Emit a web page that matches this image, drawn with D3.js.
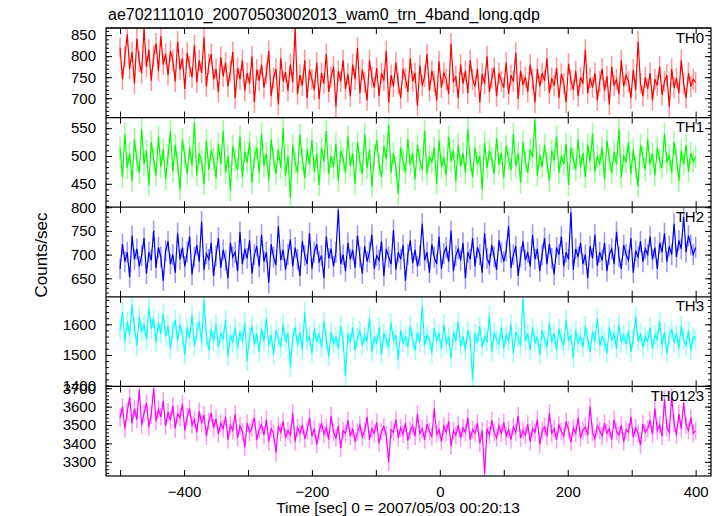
<!DOCTYPE html>
<html><head><meta charset="utf-8">
<script src="https://cdn.jsdelivr.net/npm/d3@7"></script>
<style>
html,body{margin:0;padding:0;background:#fff;}
svg{display:block;font-family:"Liberation Sans",Arial,Helvetica,sans-serif;}
</style></head><body>
<svg id="c" width="724" height="516"></svg>
<script>
const title = "ae702111010_20070503002013_wam0_trn_4band_long.qdp";
const xLabel = "Time [sec] 0 = 2007/05/03 00:20:13";
const yLabel = "Counts/sec";
const timeStart = -500, timeEnd = 400;
const panelNames = ["TH0","TH1","TH2","TH3","TH0123"];
const panelColors = ["#ff0000","#00ff00","#0000ff","#00ffff","#ff00ff"];
const panelDomains = [[654,867],[408,569],[611,800],[1397,1690],[3223,3710]];
const panelMajor = [[700,750,800,850],[450,500,550],[650,700,750,800],[1400,1500,1600],[3300,3400,3500,3600,3700]];
const panelMinorStep = [10,10,10,20,20];
const panelErrors = [25,20,22,32,48];
const xTickValues = [-500,-400,-300,-200,-100,0,100,200,300,400];
const xLabelValues = [-400,-200,0,200,400];

const th0 = [820,745,798,852,770,810,735,842,788,760,865,775,815,742,800,830,765,848,780,805,
755,812,790,740,835,768,795,722,808,775,750,826,738,790,760,845,728,782,805,745,
770,715,798,752,785,728,765,810,700,772,745,790,718,760,735,800,690,768,742,780,
725,758,812,705,748,770,685,795,740,762,718,780,738,865,710,755,730,790,700,768,
745,720,785,698,760,735,805,715,750,775,680,765,740,790,722,758,705,780,745,820,
712,768,738,695,790,750,725,772,705,760,742,812,690,755,728,785,735,700,770,748,
715,795,740,760,682,778,730,752,805,718,765,740,695,788,725,760,745,710,830,738,
752,700,780,735,765,712,790,745,728,770,690,758,735,800,715,748,772,705,760,740,
725,785,710,755,740,808,698,765,732,750,715,780,745,690,770,728,760,742,795,712,
748,730,772,700,758,735,690,782,742,720,765,705,750,735,815,712,748,725,760,695,
740,770,718,752,685,775,730,745,710,790,728,755,740,700,768,720,835,735,705,750,
722,760,695,745,730,775,708,740,755,680,770,725,748,712,790,735,700,760,728,745,738];
const th1 = [515,462,540,478,505,455,530,492,470,548,485,510,448,525,495,465,535,480,512,458,
500,545,472,520,488,440,530,498,468,515,482,560,465,505,490,450,528,475,510,495,
460,522,485,545,470,500,438,518,492,475,535,462,508,488,525,452,498,515,470,540,
482,505,455,530,495,468,512,478,550,465,500,425,520,488,470,538,495,460,512,485,
528,472,505,448,515,490,545,468,500,480,522,455,510,495,470,535,482,505,450,525,
490,468,540,478,512,445,500,528,485,462,518,495,555,470,505,480,432,515,492,470,
530,485,505,458,520,492,475,545,468,500,488,515,450,528,480,498,465,535,490,510,
455,520,482,505,470,548,492,462,515,485,500,440,525,478,510,495,468,532,485,505,
460,518,495,475,540,482,505,452,525,490,470,512,498,565,465,502,480,520,488,455,
510,492,535,470,500,485,522,448,515,495,475,530,480,505,462,520,490,540,472,500,
485,515,458,528,495,470,508,485,548,462,500,490,525,468,512,480,445,520,498,475,
530,485,505,465,515,492,478,540,488,502,470,525,495,455,510,485,520,472,505,490,498];
const th2 = [670,722,685,705,652,740,690,712,675,698,735,660,705,688,750,672,715,695,645,708,
728,680,700,662,745,690,715,675,705,738,658,695,720,685,770,668,702,690,725,655,
698,735,672,710,688,650,725,695,705,665,748,680,712,692,730,660,700,718,675,742,
685,705,640,722,695,678,760,688,710,668,700,732,675,715,690,655,728,698,680,745,
670,705,722,685,698,650,738,692,712,675,705,795,680,700,665,725,690,710,672,740,
695,660,718,685,705,742,670,698,688,728,655,712,695,680,752,668,705,690,720,645,
700,730,682,710,675,698,765,688,705,662,722,695,680,738,670,702,715,685,750,665,
698,712,688,725,650,705,690,735,675,715,700,662,745,692,680,720,695,668,730,705,
685,708,760,672,700,718,655,695,728,688,705,675,742,690,712,665,700,735,680,722,
692,658,715,700,738,675,705,690,790,668,712,695,725,680,700,650,718,692,742,676,
705,688,725,665,700,712,680,748,695,670,720,700,688,735,662,708,695,728,685,712,
700,738,690,715,670,725,705,745,685,718,700,765,695,730,712,780,705,740,720,700,715];
const th3 = [1580,1640,1545,1610,1565,1665,1590,1530,1625,1575,1600,1550,1655,1585,1620,1540,1605,1570,1635,1560,
1595,1520,1580,1615,1545,1600,1565,1500,1590,1555,1630,1530,1575,1610,1540,1680,1560,1515,1585,1545,
1600,1525,1570,1550,1615,1495,1565,1540,1590,1520,1575,1545,1605,1480,1560,1595,1535,1570,1510,1585,
1545,1620,1530,1565,1500,1580,1555,1525,1600,1540,1570,1460,1555,1590,1530,1575,1515,1640,1545,1560,
1505,1585,1540,1570,1525,1610,1550,1495,1575,1535,1560,1520,1595,1545,1430,1570,1540,1590,1515,1555,
1580,1530,1565,1545,1620,1510,1560,1535,1590,1500,1570,1550,1525,1605,1545,1565,1485,1580,1540,1560,
1525,1595,1550,1515,1575,1540,1660,1530,1565,1550,1505,1590,1545,1570,1520,1600,1535,1560,1490,1575,
1545,1610,1530,1560,1515,1580,1550,1420,1570,1540,1595,1525,1560,1545,1630,1510,1575,1550,1535,1590,
1520,1565,1545,1600,1505,1575,1555,1530,1685,1545,1570,1515,1590,1540,1560,1500,1580,1550,1525,1605,
1540,1570,1515,1585,1550,1530,1615,1545,1565,1490,1580,1540,1560,1525,1595,1550,1510,1575,1545,1620,
1530,1560,1545,1505,1590,1550,1570,1520,1600,1540,1565,1535,1580,1510,1555,1625,1545,1570,1525,1560,
1545,1590,1520,1565,1550,1610,1530,1575,1505,1560,1585,1540,1570,1520,1595,1550,1530,1580,1515,1560,1550];
const th0123 = [3540,3600,3480,3575,3650,3510,3590,3530,3690,3500,3565,3620,3490,3555,3700,3520,3585,3545,3630,3495,
3570,3525,3605,3480,3560,3540,3615,3470,3545,3590,3500,3530,3460,3575,3510,3555,3440,3520,3565,3485,
3535,3450,3510,3480,3545,3420,3500,3470,3560,3430,3495,3465,3380,3510,3460,3485,3540,3420,3475,3500,
3445,3530,3410,3480,3455,3350,3495,3460,3520,3430,3470,3445,3565,3410,3485,3455,3500,3425,3470,3540,
3440,3480,3395,3465,3510,3450,3485,3420,3550,3460,3430,3495,3375,3470,3455,3525,3440,3480,3410,3460,
3500,3435,3470,3545,3420,3480,3455,3515,3400,3465,3490,3445,3300,3475,3460,3530,3430,3485,3450,3510,
3415,3470,3495,3440,3560,3455,3480,3420,3505,3465,3435,3590,3450,3475,3410,3495,3460,3520,3385,3470,
3445,3500,3430,3485,3460,3540,3420,3475,3455,3510,3400,3470,3235,3480,3445,3525,3460,3430,3495,3455,
3515,3440,3475,3420,3490,3460,3550,3430,3470,3445,3505,3410,3480,3460,3530,3395,3470,3490,3440,3565,
3455,3480,3420,3500,3465,3440,3520,3475,3405,3485,3455,3540,3430,3470,3490,3445,3600,3460,3425,3495,
3470,3440,3510,3455,3480,3420,3530,3465,3445,3500,3410,3475,3460,3545,3435,3485,3455,3390,3505,3460,
3480,3525,3450,3590,3470,3500,3440,3640,3485,3460,3655,3510,3445,3560,3480,3620,3500,3470,3540,3455,3470];
const seriesValues = [th0, th1, th2, th3, th0123];

const svg = d3.select("#c");
const PL = 106, PR = 711, PT = 28, PB = 476;
const nP = panelNames.length;
const ph = (PB - PT) / nP;
const x = d3.scaleLinear().domain([-522, 424]).range([PL, PR]);

svg.append("text").attr("x", 108).attr("y", 20).attr("font-size", 16).text(title);

panelNames.forEach((name, p) => {
  const y0 = PT + p * ph, y1 = y0 + ph;
  const y = d3.scaleLinear().domain(panelDomains[p]).range([y1, y0]);
  const vals = seriesValues[p];
  const n = vals.length;
  const pts = vals.map((v, i) => ({t: timeStart + i * (timeEnd - timeStart) / (n - 1), v}));
  const clipId = "clip" + p;
  svg.append("clipPath").attr("id", clipId).append("rect")
    .attr("x", PL).attr("y", y0).attr("width", PR - PL).attr("height", ph);
  const g = svg.append("g").attr("clip-path", `url(#${clipId})`);
  const err = panelErrors[p];
  g.selectAll("line.err").data(pts).join("line").attr("class","err")
    .attr("x1", d => x(d.t)).attr("x2", d => x(d.t))
    .attr("y1", d => y(d.v - err)).attr("y2", d => y(d.v + err))
    .attr("stroke", panelColors[p]).attr("stroke-opacity", 0.4).attr("stroke-width", 1.6);
  g.append("path").datum(pts)
    .attr("d", d3.line().x(d => x(d.t)).y(d => y(d.v)))
    .attr("fill", "none").attr("stroke", panelColors[p]).attr("stroke-width", 1.2);

  const [dmin, dmax] = panelDomains[p];
  const minors = d3.range(Math.ceil(dmin / panelMinorStep[p]) * panelMinorStep[p], dmax + 0.01, panelMinorStep[p]);
  const styleAxis = sel => { sel.select(".domain").remove(); sel.selectAll("line").attr("stroke", "#000"); };
  svg.append("g").attr("transform", `translate(${PL},0)`)
    .call(d3.axisLeft(y).tickValues(minors).tickSize(-3).tickFormat("")).call(styleAxis);
  svg.append("g").attr("transform", `translate(${PR},0)`)
    .call(d3.axisRight(y).tickValues(minors).tickSize(-3).tickFormat("")).call(styleAxis);
  svg.append("g").attr("transform", `translate(${PR},0)`)
    .call(d3.axisRight(y).tickValues(panelMajor[p]).tickSize(-6).tickFormat("")).call(styleAxis);
  const ya = svg.append("g").attr("transform", `translate(${PL},0)`)
    .call(d3.axisLeft(y).tickValues(panelMajor[p]).tickSize(-6).tickPadding(10).tickFormat(d3.format("d")))
    .call(styleAxis);
  ya.selectAll("text").attr("font-size", 15).attr("fill", "#000")
    .attr("font-family", '"Liberation Sans",Arial,sans-serif');
  svg.append("g").attr("transform", `translate(0,${y0})`)
    .call(d3.axisTop(x).tickValues(xTickValues).tickSize(-6).tickFormat("")).call(styleAxis);
  const xa = svg.append("g").attr("transform", `translate(0,${y1})`)
    .call(d3.axisBottom(x).tickValues(xTickValues).tickSize(-6).tickPadding(10)
      .tickFormat(d => (p === nP - 1 && xLabelValues.includes(d)) ? d3.format("d")(d) : ""))
    .call(styleAxis);
  xa.selectAll("text").attr("font-size", 15).attr("fill", "#000")
    .attr("font-family", '"Liberation Sans",Arial,sans-serif');

  svg.append("text").attr("x", 704).attr("y", y0 + 14.5).attr("text-anchor", "end")
    .attr("font-size", 15).text(name);
  svg.append("line").attr("x1", PL).attr("x2", PR).attr("y1", y0).attr("y2", y0)
    .attr("stroke", "#000").attr("stroke-width", 1.2);
});
svg.append("rect").attr("x", PL).attr("y", PT).attr("width", PR - PL).attr("height", PB - PT)
  .attr("fill", "none").attr("stroke", "#000").attr("stroke-width", 1.2);

svg.append("text").attr("x", 398).attr("y", 513).attr("text-anchor", "middle").attr("font-size", 15.5).text(xLabel);
svg.append("text").attr("transform", "translate(47,255) rotate(-90)").attr("text-anchor", "middle")
  .attr("font-size", 17).text(yLabel);
</script>
</body></html>
